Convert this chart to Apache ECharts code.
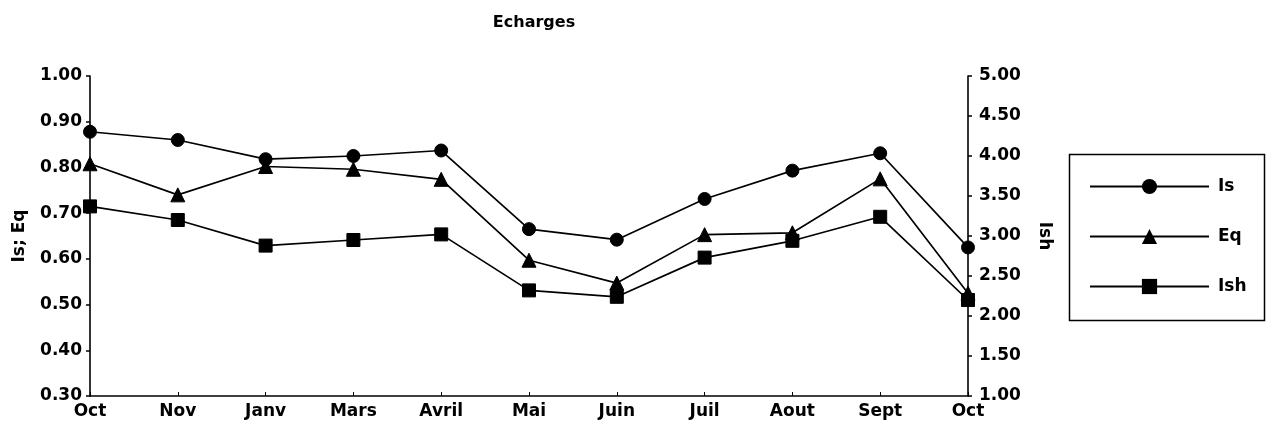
<!DOCTYPE html>
<html>
<head>
<meta charset="utf-8">
<script src="https://cdn.jsdelivr.net/npm/echarts@6/dist/echarts.min.js"></script>
<style>html,body{margin:0;padding:0;background:#fff}#c{width:1275px;height:436px}</style>
</head>
<body>
<div id="c"></div>
<script>
const categories = ['Oct','Nov','Janv','Mars','Avril','Mai','Juin','Juil','Aout','Sept','Oct'];
const isValues  = [0.878, 0.860, 0.818, 0.825, 0.837, 0.665, 0.642, 0.731, 0.793, 0.831, 0.625];
const eqValues  = [0.808, 0.740, 0.802, 0.796, 0.774, 0.597, 0.547, 0.653, 0.657, 0.775, 0.525];
const ishValues = [3.37, 3.20, 2.88, 2.95, 3.02, 2.32, 2.24, 2.73, 2.94, 3.24, 2.20];
const leftTicks = {min: 0.3, max: 1.0, interval: 0.1};
const rightTicks = {min: 1.0, max: 5.0, interval: 0.5};

const FONT = 'DejaVu Sans';
const chart = echarts.init(document.getElementById('c'), null, {renderer: 'canvas'});
const lbl = {color: '#000', fontFamily: FONT, fontWeight: 'bold', fontSize: 17};
const axisLine = {show: true, lineStyle: {color: '#000', width: 1.6}};
const tick = {show: true, length: 4, lineStyle: {color: '#000', width: 1.5}};
function ser(name, data, symbol, yIdx) {
  return {
    name, type: 'line', data, symbol, symbolSize: symbol === 'triangle' ? 14 : 13,
    yAxisIndex: yIdx, showAllSymbol: true,
    lineStyle: {color: '#000', width: 1.7},
    itemStyle: {color: '#000', borderColor: '#000'},
    emphasis: {disabled: true}, animation: false
  };
}
chart.setOption({
  backgroundColor: '#fff',
  animation: false,
  title: {text: 'Echarges', left: 529, top: 10, textAlign: 'center',
    textStyle: {fontFamily: FONT, fontWeight: 'bold', fontSize: 16, color: '#000'}},
  grid: {left: 90, right: 307, top: 76, bottom: 40, containLabel: false},
  legend: {
    orient: 'vertical', left: 1084, top: 173, itemWidth: 119, itemHeight: 19, itemGap: 33,
    textStyle: {color: '#000', fontFamily: FONT, fontWeight: 'bold', fontSize: 17, padding: [0, 0, 0, 4]},
    data: ['Is', 'Eq', 'Ish']
  },
  graphic: [{type: 'rect', shape: {x: 1069.5, y: 154.5, width: 195, height: 166},
    style: {fill: 'none', stroke: '#000', lineWidth: 1.5}, silent: true, z: 0}],
  xAxis: {
    type: 'category', data: categories, boundaryGap: false,
    axisLine, axisTick: {show: true, length: 4, inside: true, lineStyle: {color: '#000', width: 1}},
    axisLabel: Object.assign({margin: 7, interval: 0}, lbl),
    splitLine: {show: false}
  },
  yAxis: [
    Object.assign({type: 'value', position: 'left', name: 'Is; Eq', nameLocation: 'middle', nameGap: 62,
      nameRotate: 90, nameTextStyle: lbl,
      axisLine, axisTick: tick, splitLine: {show: false},
      axisLabel: Object.assign({margin: 8, formatter: v => v.toFixed(2)}, lbl)}, leftTicks),
    Object.assign({type: 'value', position: 'right', name: 'Ish', nameLocation: 'middle', nameGap: 68,
      nameRotate: -90, nameTextStyle: lbl,
      axisLine, axisTick: tick, splitLine: {show: false},
      axisLabel: Object.assign({margin: 11, formatter: v => v.toFixed(2)}, lbl)}, rightTicks)
  ],
  series: [
    ser('Is', isValues, 'circle', 0),
    ser('Eq', eqValues, 'triangle', 0),
    ser('Ish', ishValues, 'rect', 1)
  ]
});
</script>
</body>
</html>
